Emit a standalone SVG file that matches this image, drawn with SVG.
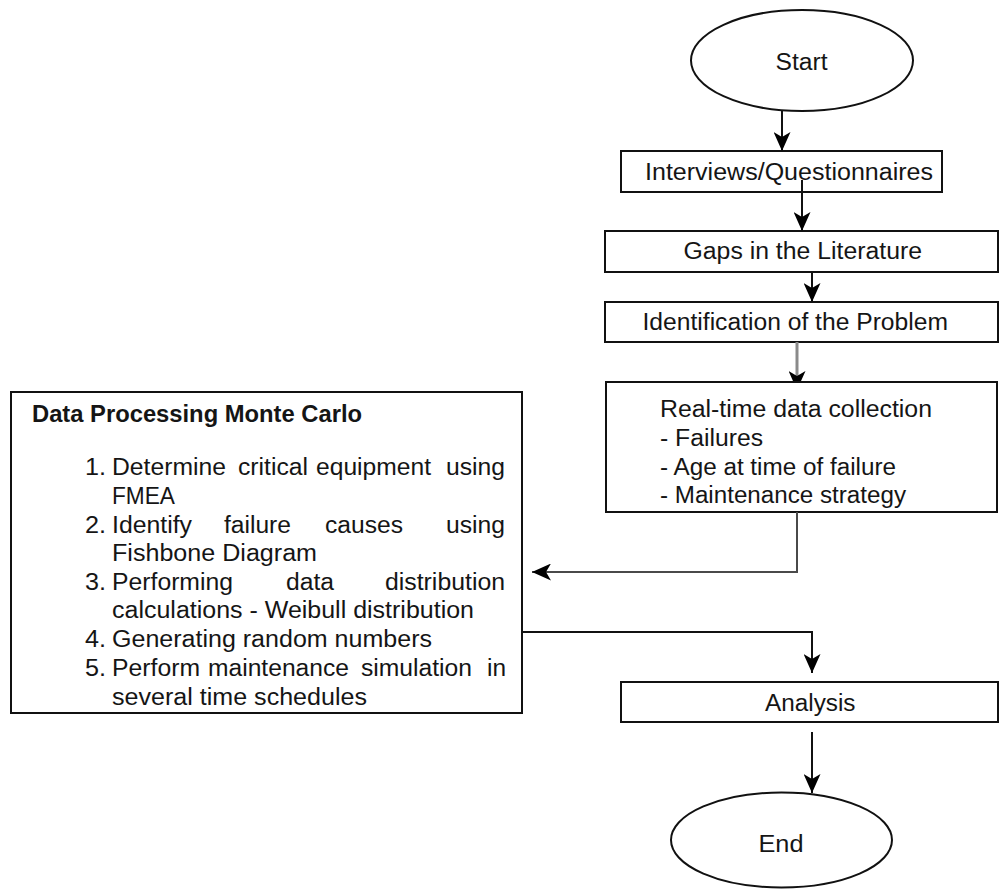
<svg xmlns="http://www.w3.org/2000/svg" width="1002" height="890" viewBox="0 0 1002 890">
  <style>
    .box { fill: #ffffff; stroke: #111111; stroke-width: 2; }
    .t { font-family: "Liberation Sans", Arial, sans-serif; font-size: 23px; fill: #151515; }
    .b { font-weight: bold; }
    .conn { fill: none; stroke: #111111; stroke-width: 2; }
    .gray1 { stroke: #8a8a8a; stroke-width: 3; }
    .gray2 { stroke: #4a4a4a; stroke-width: 2; }
  </style>
  <defs>
    <marker id="arrow" markerUnits="userSpaceOnUse" viewBox="0 0 19 17" markerWidth="19" markerHeight="17" refX="19" refY="8.5" orient="auto">
      <path d="M0,0 L19,8.5 L0,17 L5,8.5 Z" fill="#000000"/>
    </marker>
    <clipPath id="clipAbove">
      <rect x="0" y="0" width="1002" height="381"/>
    </clipPath>
  </defs>
  <rect x="0" y="0" width="1002" height="890" fill="#ffffff"/>

  <g id="start">
    <ellipse class="box" cx="802" cy="60.5" rx="111" ry="50.5"/>
    <text class="t" x="775.5" y="70" textLength="52" lengthAdjust="spacingAndGlyphs">Start</text>
  </g>

  <g id="interviews">
    <rect class="box" x="621" y="151" width="321" height="41"/>
    <text class="t" x="645" y="180" textLength="288" lengthAdjust="spacingAndGlyphs">Interviews/Questionnaires</text>
  </g>

  <g id="gaps">
    <rect class="box" x="605" y="231" width="393" height="41"/>
    <text class="t" x="683.5" y="259" textLength="238.5" lengthAdjust="spacingAndGlyphs">Gaps in the Literature</text>
  </g>

  <g id="identification">
    <rect class="box" x="605" y="302" width="393" height="40"/>
    <text class="t" x="642.5" y="330" textLength="305.5" lengthAdjust="spacingAndGlyphs">Identification of the Problem</text>
  </g>

  <g id="realtime">
    <rect class="box" x="606" y="382" width="391" height="130"/>
    <text class="t" x="660" y="417" textLength="272" lengthAdjust="spacingAndGlyphs">Real-time data collection</text>
    <text class="t" x="660" y="446" textLength="103" lengthAdjust="spacingAndGlyphs">- Failures</text>
    <text class="t" x="660" y="474.5" textLength="236" lengthAdjust="spacingAndGlyphs">- Age at time of failure</text>
    <text class="t" x="660" y="503" textLength="246" lengthAdjust="spacingAndGlyphs">- Maintenance strategy</text>
  </g>

  <g id="dataprocessing">
    <rect class="box" x="11" y="392" width="511" height="321"/>
    <text class="t b" x="32" y="422" textLength="330" lengthAdjust="spacingAndGlyphs">Data Processing Monte Carlo</text>

    <text class="t" x="85" y="475" textLength="21" lengthAdjust="spacingAndGlyphs">1.</text>
    <text class="t" x="112" y="475" textLength="114" lengthAdjust="spacingAndGlyphs">Determine</text>
    <text class="t" x="238" y="475" textLength="70" lengthAdjust="spacingAndGlyphs">critical</text>
    <text class="t" x="316" y="475" textLength="115" lengthAdjust="spacingAndGlyphs">equipment</text>
    <text class="t" x="446" y="475" textLength="59" lengthAdjust="spacingAndGlyphs">using</text>
    <text class="t" x="112" y="504" textLength="63" lengthAdjust="spacingAndGlyphs">FMEA</text>

    <text class="t" x="85" y="533" textLength="21" lengthAdjust="spacingAndGlyphs">2.</text>
    <text class="t" x="112" y="533" textLength="80" lengthAdjust="spacingAndGlyphs">Identify</text>
    <text class="t" x="224" y="533" textLength="67" lengthAdjust="spacingAndGlyphs">failure</text>
    <text class="t" x="325" y="533" textLength="78" lengthAdjust="spacingAndGlyphs">causes</text>
    <text class="t" x="446" y="533" textLength="59" lengthAdjust="spacingAndGlyphs">using</text>
    <text class="t" x="112" y="561" textLength="205" lengthAdjust="spacingAndGlyphs">Fishbone Diagram</text>

    <text class="t" x="85" y="590" textLength="21" lengthAdjust="spacingAndGlyphs">3.</text>
    <text class="t" x="112" y="590" textLength="121" lengthAdjust="spacingAndGlyphs">Performing</text>
    <text class="t" x="286" y="590" textLength="48" lengthAdjust="spacingAndGlyphs">data</text>
    <text class="t" x="385" y="590" textLength="120" lengthAdjust="spacingAndGlyphs">distribution</text>
    <text class="t" x="112" y="618" textLength="362" lengthAdjust="spacingAndGlyphs">calculations - Weibull distribution</text>

    <text class="t" x="85" y="647" textLength="21" lengthAdjust="spacingAndGlyphs">4.</text>
    <text class="t" x="112" y="647" textLength="320" lengthAdjust="spacingAndGlyphs">Generating random numbers</text>

    <text class="t" x="85" y="676" textLength="21" lengthAdjust="spacingAndGlyphs">5.</text>
    <text class="t" x="112" y="676" textLength="88" lengthAdjust="spacingAndGlyphs">Perform</text>
    <text class="t" x="208" y="676" textLength="141" lengthAdjust="spacingAndGlyphs">maintenance</text>
    <text class="t" x="361" y="676" textLength="111" lengthAdjust="spacingAndGlyphs">simulation</text>
    <text class="t" x="487" y="676" textLength="19" lengthAdjust="spacingAndGlyphs">in</text>
    <text class="t" x="112" y="705" textLength="255" lengthAdjust="spacingAndGlyphs">several time schedules</text>
  </g>

  <g id="analysis">
    <rect class="box" x="621" y="682" width="377" height="40"/>
    <text class="t" x="765" y="711" textLength="90.5" lengthAdjust="spacingAndGlyphs">Analysis</text>
  </g>

  <g id="end">
    <ellipse class="box" cx="781.5" cy="840" rx="110.5" ry="47.5"/>
    <text class="t" x="758.5" y="852" textLength="45" lengthAdjust="spacingAndGlyphs">End</text>
  </g>

  <g id="connectors">
    <path class="conn" d="M782,111 V151" marker-end="url(#arrow)"/>
    <path class="conn" d="M802,180 V231" marker-end="url(#arrow)"/>
    <path class="conn" d="M812,272 V302" marker-end="url(#arrow)"/>
    <g clip-path="url(#clipAbove)">
      <path class="conn gray1" d="M797,342 V390" marker-end="url(#arrow)"/>
    </g>
    <path class="conn gray2" d="M797,512 V572 H532" marker-end="url(#arrow)"/>
    <path class="conn" d="M522,632 H812 V673" marker-end="url(#arrow)"/>
    <path class="conn" d="M812,732 V793" marker-end="url(#arrow)"/>
  </g>
</svg>
